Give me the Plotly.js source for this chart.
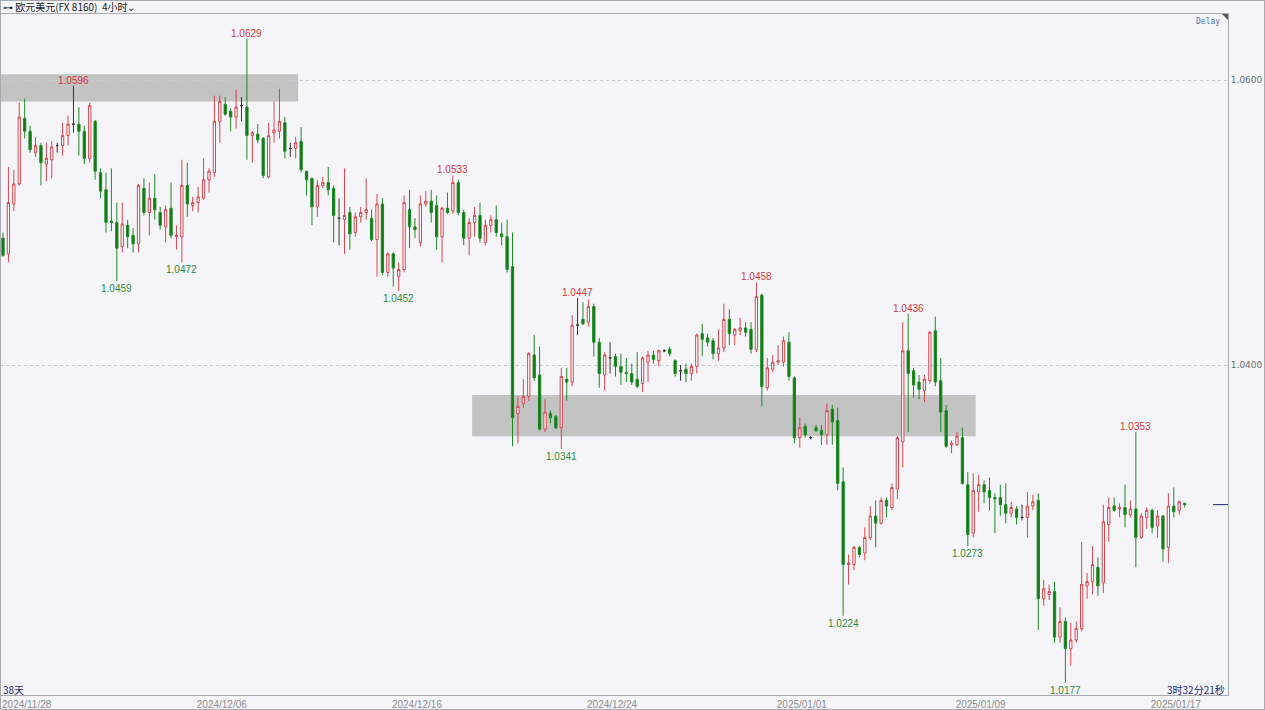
<!DOCTYPE html>
<html>
<head>
<meta charset="utf-8">
<script src="https://cdn.plot.ly/plotly-3.0.1.min.js"></script>
<style>
  html, body { margin: 0; padding: 0; background: #f5f5f9; }
  #wrap { position: relative; width: 1265px; height: 710px; }
  #chart { width: 1265px; height: 710px; }
  #frame { position: absolute; left: 0; top: 0; width: 1263px; height: 708px;
           border: 1px solid #a9a9b2; pointer-events: none; }
</style>
</head>
<body>
<div id="wrap"><div id="chart"></div><div id="frame"></div></div>
<script>
// EUR/USD, 4-hour bars
const symbolTitle = '⊶ 欧元美元(FX 8160)  4小时⌄';
const dateLabels = ['2024/11/28', '2024/12/06', '2024/12/16', '2024/12/24', '2025/01/01', '2025/01/09', '2025/01/17'];
const dateBars = [4, 40, 76, 112, 147, 180, 216];
const priceTicks = [1.04, 1.06];

const open = [
  1.0489,1.0478,1.0513,1.0527,1.0573,1.0564,1.0549,1.0554,1.0541,1.0544,
  1.0554,1.0554,1.0561,1.0569,1.0569,1.0564,1.0545,1.0571,1.0535,1.0523,
  1.0501,1.0500,1.0483,1.0498,1.0491,1.0485,1.0524,1.0507,1.0517,1.0507,
  1.0497,1.0510,1.0490,1.0490,1.0526,1.0512,1.0514,1.0517,1.0530,1.0535,
  1.0571,1.0583,1.0578,1.0574,1.0582,1.0581,1.0561,1.0562,1.0559,1.0532,
  1.0563,1.0564,1.0570,1.0552,1.0552,1.0557,1.0536,1.0531,1.0511,1.0526,
  1.0528,1.0524,1.0503,1.0502,1.0507,1.0493,1.0504,1.0507,1.0503,1.0488,
  1.0513,1.0465,1.0478,1.0462,1.0467,1.0509,1.0497,1.0486,1.0513,1.0515,
  1.0512,1.0490,1.0510,1.0508,1.0528,1.0507,1.0489,1.0500,1.0505,1.0486,
  1.0498,1.0502,1.0492,1.0490,1.0469,1.0366,1.0373,1.0378,1.0407,1.0393,
  1.0355,1.0366,1.0364,1.0356,1.0390,1.0388,1.0428,1.0432,1.0430,1.0441,
  1.0416,1.0393,1.0405,1.0406,1.0399,1.0395,1.0394,1.0390,1.0387,1.0402,
  1.0407,1.0403,1.0410,1.0411,1.0403,1.0396,1.0397,1.0394,1.0399,1.0422,
  1.0419,1.0417,1.0408,1.0412,1.0432,1.0421,1.0424,1.0426,1.0425,1.0411,
  1.0449,1.0384,1.0397,1.0402,1.0402,1.0416,1.0391,1.0349,1.0357,1.0349,
  1.0356,1.0354,1.0351,1.0369,1.0361,1.0318,1.0260,1.0260,1.0272,1.0268,
  1.0279,1.0294,1.0289,1.0305,1.0300,1.0313,1.0346,1.0410,1.0396,1.0388,
  1.0382,1.0389,1.0424,1.0389,1.0368,1.0344,1.0344,1.0349,1.0316,1.0282,
  1.0311,1.0316,1.0312,1.0307,1.0307,1.0302,1.0296,1.0299,1.0293,1.0293,
  1.0301,1.0305,1.0236,1.0239,1.0241,1.0209,1.0220,1.0201,1.0207,1.0215,
  1.0245,1.0248,1.0258,1.0247,1.0288,1.0301,1.0299,1.0300,1.0295,1.0299,
  1.0279,1.0293,1.0298,1.0287,1.0294,1.0272,1.0301,1.0298,1.0303
];
const high = [
  1.0493,1.0539,1.0537,1.0584,1.0587,1.0568,1.0560,1.0556,1.0556,1.0557,
  1.0556,1.0570,1.0575,1.0596,1.0581,1.0568,1.0584,1.0572,1.0538,1.0535,
  1.0538,1.0514,1.0514,1.0502,1.0496,1.0527,1.0531,1.0528,1.0534,1.0511,
  1.0512,1.0528,1.0498,1.0544,1.0542,1.0518,1.0525,1.0545,1.0538,1.0589,
  1.0589,1.0588,1.0580,1.0593,1.0588,1.0629,1.0564,1.0569,1.0560,1.0570,
  1.0585,1.0594,1.0574,1.0556,1.0560,1.0567,1.0536,1.0531,1.0530,1.0532,
  1.0539,1.0526,1.0517,1.0538,1.0511,1.0507,1.0511,1.0531,1.0509,1.0520,
  1.0517,1.0479,1.0479,1.0472,1.0519,1.0523,1.0503,1.0519,1.0522,1.0523,
  1.0519,1.0511,1.0521,1.0533,1.0530,1.0509,1.0503,1.0511,1.0514,1.0502,
  1.0505,1.0512,1.0500,1.0502,1.0493,1.0378,1.0390,1.0409,1.0421,1.0413,
  1.0376,1.0368,1.0365,1.0398,1.0398,1.0435,1.0447,1.0444,1.0446,1.0443,
  1.0419,1.0409,1.0416,1.0408,1.0408,1.0405,1.0401,1.0409,1.0406,1.0410,
  1.0410,1.0411,1.0411,1.0413,1.0404,1.0400,1.0401,1.0401,1.0422,1.0429,
  1.0422,1.0419,1.0425,1.0443,1.0439,1.0426,1.0433,1.0430,1.0430,1.0458,
  1.0450,1.0405,1.0407,1.0414,1.0420,1.0423,1.0392,1.0363,1.0359,1.0350,
  1.0358,1.0358,1.0373,1.0372,1.0370,1.0328,1.0267,1.0273,1.0273,1.0286,
  1.0301,1.0305,1.0307,1.0307,1.0317,1.0350,1.0430,1.0436,1.0398,1.0393,
  1.0393,1.0424,1.0434,1.0405,1.0372,1.0347,1.0353,1.0356,1.0325,1.0324,
  1.0323,1.0319,1.0321,1.0310,1.0316,1.0317,1.0304,1.0301,1.0302,1.0311,
  1.0309,1.0310,1.0249,1.0246,1.0248,1.0230,1.0223,1.0219,1.0220,1.0276,
  1.0254,1.0273,1.0265,1.0302,1.0307,1.0307,1.0303,1.0316,1.0305,1.0353,
  1.0296,1.0300,1.0299,1.0298,1.0295,1.0310,1.0314,1.0305,1.0303
];
const low = [
  1.0476,1.0472,1.0508,1.0526,1.0559,1.0549,1.0546,1.0526,1.0529,1.0531,
  1.0549,1.0547,1.0554,1.0563,1.0547,1.0541,1.0542,1.0530,1.0517,1.0493,
  1.0494,1.0459,1.0479,1.0482,1.0479,1.0479,1.0505,1.0491,1.0502,1.0495,
  1.0486,1.0489,1.0481,1.0472,1.0504,1.0508,1.0507,1.0516,1.0521,1.0532,
  1.0556,1.0575,1.0564,1.0566,1.0571,1.0544,1.0542,1.0556,1.0531,1.0531,
  1.0556,1.0559,1.0545,1.0546,1.0545,1.0535,1.0519,1.0498,1.0504,1.0524,
  1.0519,1.0486,1.0484,1.0478,1.0481,1.0490,1.0500,1.0502,1.0487,1.0462,
  1.0463,1.0462,1.0455,1.0452,1.0465,1.0482,1.0489,1.0483,1.0511,1.0500,
  1.0481,1.0472,1.0506,1.0506,1.0505,1.0484,1.0477,1.0490,1.0486,1.0484,
  1.0493,1.0490,1.0484,1.0465,1.0343,1.0345,1.0370,1.0375,1.0389,1.0354,
  1.0353,1.0359,1.0355,1.0341,1.0375,1.0385,1.0421,1.0428,1.0427,1.0406,
  1.0384,1.0382,1.0394,1.0392,1.0386,1.0388,1.0386,1.0384,1.0381,1.0388,
  1.0401,1.0399,1.0409,1.0406,1.0392,1.0389,1.0388,1.0389,1.0394,1.0406,
  1.0413,1.0404,1.0403,1.0409,1.0414,1.0414,1.0421,1.0420,1.0408,1.0409,
  1.0371,1.0382,1.0395,1.0400,1.0399,1.0389,1.0345,1.0342,1.0349,1.0348,
  1.0353,1.0344,1.0344,1.0344,1.0312,1.0224,1.0246,1.0256,1.0265,1.0263,
  1.0277,1.0272,1.0288,1.0293,1.0298,1.0306,1.0328,1.0353,1.0377,1.0376,
  1.0374,1.0387,1.0385,1.0353,1.0342,1.0338,1.0343,1.0316,1.0273,1.0279,
  1.0297,1.0303,1.0298,1.0282,1.0294,1.0289,1.0293,1.0288,1.0291,1.0279,
  1.0298,1.0214,1.0231,1.0235,1.0205,1.0205,1.0177,1.0189,1.0205,1.0213,
  1.0236,1.0239,1.0238,1.0240,1.0276,1.0297,1.0293,1.0286,1.0293,1.0258,
  1.0278,1.0285,1.0282,1.0279,1.0262,1.0261,1.0293,1.0295,1.0300
];
const close = [
  1.0477,1.0514,1.0527,1.0574,1.0564,1.0551,1.0554,1.0542,1.0545,1.0553,
  1.0554,1.0561,1.0569,1.0569,1.0564,1.0545,1.0582,1.0536,1.0522,1.0500,
  1.0500,1.0482,1.0499,1.0490,1.0485,1.0526,1.0507,1.0517,1.0509,1.0498,
  1.0509,1.0491,1.0491,1.0526,1.0513,1.0514,1.0518,1.0530,1.0536,1.0571,
  1.0585,1.0576,1.0574,1.0581,1.0582,1.0561,1.0563,1.0558,1.0533,1.0561,
  1.0565,1.0571,1.0550,1.0552,1.0556,1.0537,1.0530,1.0511,1.0526,1.0528,
  1.0523,1.0505,1.0503,1.0505,1.0492,1.0504,1.0507,1.0509,1.0488,1.0513,
  1.0465,1.0478,1.0468,1.0467,1.0514,1.0497,1.0495,1.0513,1.0515,1.0507,
  1.0490,1.0510,1.0507,1.0528,1.0507,1.0489,1.0500,1.0505,1.0489,1.0498,
  1.0502,1.0493,1.0490,1.0467,1.0363,1.0371,1.0378,1.0408,1.0391,1.0355,
  1.0367,1.0363,1.0356,1.0392,1.0388,1.0428,1.0428,1.0429,1.0441,1.0416,
  1.0394,1.0407,1.0405,1.0399,1.0395,1.0394,1.0388,1.0385,1.0405,1.0407,
  1.0404,1.0410,1.0410,1.0408,1.0394,1.0396,1.0394,1.0399,1.0421,1.0418,
  1.0416,1.0408,1.0412,1.0432,1.0422,1.0425,1.0426,1.0423,1.0411,1.0448,
  1.0385,1.0398,1.0402,1.0403,1.0417,1.0392,1.0349,1.0356,1.0351,1.0349,
  1.0354,1.0351,1.0368,1.0360,1.0317,1.0260,1.0261,1.0272,1.0267,1.0279,
  1.0294,1.0289,1.0305,1.0301,1.0314,1.0349,1.0410,1.0394,1.0386,1.0383,
  1.0390,1.0423,1.0388,1.0367,1.0343,1.0345,1.0350,1.0317,1.0281,1.0312,
  1.0316,1.0311,1.0307,1.0306,1.0302,1.0296,1.0300,1.0293,1.0293,1.0301,
  1.0304,1.0236,1.0243,1.0241,1.0209,1.0220,1.0201,1.0207,1.0215,1.0246,
  1.0248,1.0260,1.0245,1.0290,1.0300,1.0298,1.0300,1.0295,1.0299,1.0279,
  1.0294,1.0298,1.0286,1.0294,1.0271,1.0301,1.0297,1.0304,1.0302
];

// bars whose high / low carry a price label
const peakBars = [13, 45, 83, 106, 139, 167, 209];
const troughBars = [21, 33, 73, 103, 155, 178, 196];

// shaded price zones: first bar, last bar, lower price, upper price
const zoneFirstBar = [0, 87];
const zoneLastBar = [54, 179];
const zoneLow = [1.0585, 1.0350];
const zoneHigh = [1.0604, 1.0379];

const UP = '#d6454d', UP_FILL = '#ffffff';
const DOWN = '#1f8a24', DOWN_FILL = '#0c780f';
const FLAT = '#333333';

const bars = open.map((_, i) => i);
const pick = (idx, arr) => idx.map(i => arr[i]);

function candles(idx, lineColor, fill) {
  const side = { line: { color: lineColor, width: 1 }, fillcolor: fill };
  return {
    type: 'candlestick',
    x: idx,
    open: pick(idx, open), high: pick(idx, high),
    low: pick(idx, low), close: pick(idx, close),
    increasing: side, decreasing: side,
    whiskerwidth: 0,
    hoverinfo: 'skip',
    showlegend: false
  };
}

const upBars = bars.filter(i => close[i] > open[i]);
const downBars = bars.filter(i => close[i] < open[i]);
const flatBars = bars.filter(i => close[i] === open[i]);

const traces = [
  candles(upBars, UP, UP_FILL),
  candles(downBars, DOWN, DOWN_FILL),
  candles(flatBars, FLAT, FLAT)
];

const shapes = zoneFirstBar.map((b, k) => ({
  type: 'rect', layer: 'below', xref: 'x', yref: 'y',
  x0: b - 0.45, x1: zoneLastBar[k] + 0.45,
  y0: zoneLow[k], y1: zoneHigh[k],
  fillcolor: '#c3c3c3', line: { width: 0 }
}));
// last-price marker beside the price scale
const lastClose = close[close.length - 1];
shapes.push({
  type: 'line', xref: 'paper', yref: 'y',
  x0: 0.9878, x1: 1, y0: lastClose, y1: lastClose,
  line: { color: '#1c2160', width: 1 }
});
// corner marker at top right of the plot
shapes.push({
  type: 'path', xref: 'paper', yref: 'paper',
  path: 'M 0.9951 1 L 1 1 L 1 0.9912 Z',
  fillcolor: '#555555', line: { width: 0 }
});

const labelFont = 'Liberation Sans, Arial, sans-serif';
const annotations = [];
peakBars.forEach(b => annotations.push({
  xref: 'x', yref: 'y', x: b, y: high[b], text: high[b].toFixed(4),
  showarrow: false, yanchor: 'bottom', yshift: -2,
  font: { family: labelFont, size: 10, color: '#d3353d' }
}));
troughBars.forEach(b => annotations.push({
  xref: 'x', yref: 'y', x: b, y: low[b], text: low[b].toFixed(4),
  showarrow: false, yanchor: 'top', yshift: 0,
  font: { family: labelFont, size: 10, color: '#2d8a37' }
}));
annotations.push(
  { xref: 'paper', yref: 'paper', x: 0.0016, y: 1.0103, xanchor: 'left', yanchor: 'middle',
    text: symbolTitle, showarrow: false, borderpad: 0,
    font: { family: 'Noto Sans CJK SC, sans-serif', size: 10, color: '#222222' } },
  { xref: 'paper', yref: 'paper', x: 0.9951, y: 0.9895, xanchor: 'right', yanchor: 'middle',
    text: 'Delay', showarrow: false,
    font: { family: 'DejaVu Sans Mono, monospace', size: 8, color: '#4a6fb0' } },
  { xref: 'paper', yref: 'paper', x: 0.0008, y: 0.0088, xanchor: 'left', yanchor: 'middle',
    text: '38天', showarrow: false,
    font: { family: 'Noto Sans CJK SC, sans-serif', size: 10, color: '#23287a' } },
  { xref: 'paper', yref: 'paper', x: 0.9992, y: 0.0088, xanchor: 'right', yanchor: 'middle',
    text: '3时32分21秒', showarrow: false,
    font: { family: 'Noto Sans CJK SC, sans-serif', size: 10, color: '#23287a' } }
);

const layout = {
  width: 1265, height: 710,
  margin: { l: 0, r: 37, t: 14, b: 15, pad: 0 },
  paper_bgcolor: '#f5f5f9',
  plot_bgcolor: '#f5f5f9',
  showlegend: false,
  boxgap: 0.4,
  xaxis: {
    type: 'linear', range: [-0.553, 226.0], fixedrange: true,
    rangeslider: { visible: false },
    showgrid: false, zeroline: false,
    tickmode: 'array', tickvals: dateBars, ticktext: dateLabels,
    ticks: '', ticklabelshift: 2,
    tickfont: { family: labelFont, size: 10, color: '#8c8c8c' },
    showline: true, linecolor: '#a9a9b2', linewidth: 1, mirror: true
  },
  yaxis: {
    side: 'right', range: [1.0168421, 1.0646316], fixedrange: true,
    tickmode: 'array', tickvals: priceTicks, tickformat: '.4f',
    ticks: '', zeroline: false,
    showgrid: true, gridcolor: '#c9c9cf', griddash: 'dot', gridwidth: 1,
    tickfont: { family: 'DejaVu Sans, sans-serif', size: 9, color: '#6e6e6e' },
    showline: true, linecolor: '#a9a9b2', linewidth: 1, mirror: true
  },
  shapes: shapes,
  annotations: annotations
};

Plotly.newPlot('chart', traces, layout, { displayModeBar: false, staticPlot: true });
</script>
</body>
</html>
